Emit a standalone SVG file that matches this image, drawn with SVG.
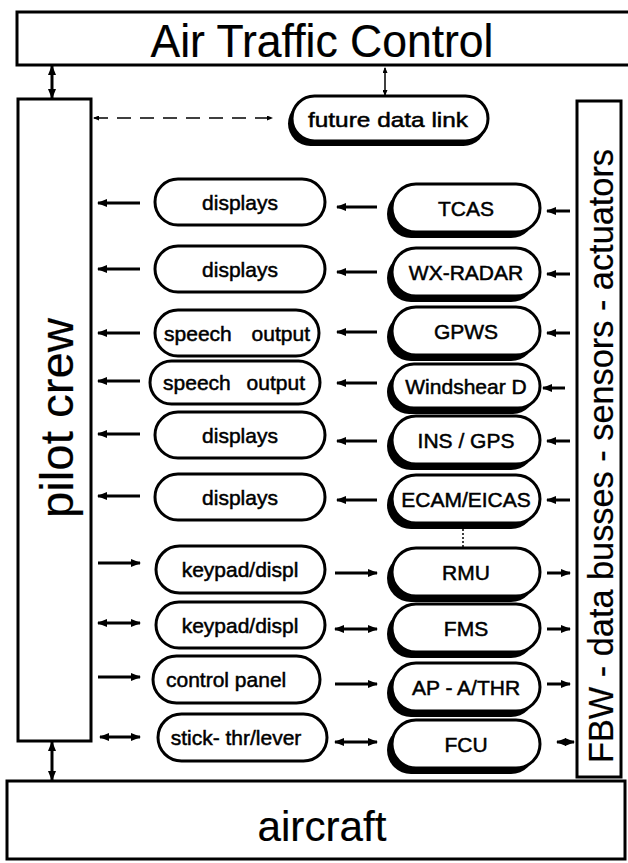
<svg xmlns="http://www.w3.org/2000/svg" width="628" height="863" viewBox="0 0 628 863">
<style>
text{font-family:"Liberation Sans",Arial,sans-serif;fill:#000;stroke:#000;stroke-width:0.5}
.big{stroke-width:0.2}
.box{fill:#fff;stroke:#000;stroke-width:3}
.nd{fill:#fff;stroke:#000;stroke-width:3}
.sh{fill:#000}
.lbl{font-size:21px;text-anchor:middle;dominant-baseline:central}
.ar{stroke:#000;stroke-width:3;fill:none}
.thin{stroke:#000;stroke-width:1.5;fill:none}
</style>
<defs>
<marker id="ah" viewBox="0 0 10 8" refX="9" refY="4" markerWidth="10" markerHeight="8" markerUnits="userSpaceOnUse" orient="auto-start-reverse"><path d="M0,0L10,4L0,8z"/></marker>
<marker id="sm" viewBox="0 0 6 5" refX="5" refY="2.5" markerWidth="6" markerHeight="5" markerUnits="userSpaceOnUse" orient="auto-start-reverse"><path d="M0,0L6,2.5L0,5z"/></marker>
</defs>
<rect width="628" height="863" fill="#fff"/>

<g id="atc"><rect class="box" x="17" y="12" width="620" height="53"/><text class="big" x="322" y="57" font-size="46" text-anchor="middle" textLength="343" lengthAdjust="spacingAndGlyphs">Air Traffic Control</text></g>
<g id="aircraft"><rect class="box" x="7" y="781" width="618" height="78"/><text class="big" x="322" y="841" font-size="43" text-anchor="middle" textLength="129" lengthAdjust="spacingAndGlyphs">aircraft</text></g>
<g id="pilot"><rect class="box" x="18" y="99" width="73" height="642"/><text class="big" transform="translate(73,418) rotate(-90)" font-size="46" text-anchor="middle" textLength="200" lengthAdjust="spacingAndGlyphs">pilot crew</text></g>
<g id="fbw"><rect class="box" x="577" y="101" width="44" height="676"/><text class="big" transform="translate(613,456) rotate(-90)" font-size="35" text-anchor="middle" textLength="614" lengthAdjust="spacingAndGlyphs">FBW - data busses - sensors - actuators</text></g>

<g id="fdl"><rect class="sh" x="288" y="101" width="198" height="45" rx="22.5"/><rect class="nd" x="292" y="96" width="196" height="45" rx="22.5"/><text class="lbl" x="388" y="119" font-size="22" textLength="160" lengthAdjust="spacingAndGlyphs">future data link</text></g>

<g id="l1"><rect class="nd" x="155" y="179" width="170" height="46" rx="23"/><text class="lbl" x="240" y="202">displays</text></g>
<g id="l2"><rect class="nd" x="155" y="246" width="170" height="46" rx="23"/><text class="lbl" x="240" y="269">displays</text></g>
<g id="l3"><rect class="nd" x="155" y="310" width="164" height="46" rx="23"/><text class="lbl" x="237" y="333" word-spacing="14">speech output</text></g>
<g id="l4"><rect class="nd" x="150" y="361" width="170" height="43" rx="21.5"/><text class="lbl" x="234" y="382" word-spacing="10">speech output</text></g>
<g id="l5"><rect class="nd" x="155" y="412" width="170" height="46" rx="23"/><text class="lbl" x="240" y="435">displays</text></g>
<g id="l6"><rect class="nd" x="155" y="474" width="170" height="46" rx="23"/><text class="lbl" x="240" y="497">displays</text></g>
<g id="l7"><rect class="nd" x="156" y="546" width="169" height="47" rx="23.5"/><text class="lbl" x="240" y="569">keypad/displ</text></g>
<g id="l8"><rect class="nd" x="156" y="602" width="169" height="46" rx="23"/><text class="lbl" x="240" y="625">keypad/displ</text></g>
<g id="l9"><rect class="nd" x="153" y="656" width="167" height="47" rx="23.5"/><text x="166" y="679" font-size="21" dominant-baseline="central">control panel</text></g>
<g id="l10"><rect class="nd" x="158" y="714" width="169" height="47" rx="23.5"/><text class="lbl" x="236" y="737">stick- thr/lever</text></g>

<g id="tcas"><rect class="sh" x="387" y="190" width="148" height="48" rx="24"/><rect class="nd" x="392" y="184" width="148" height="48" rx="24"/><text class="lbl" x="466" y="208">TCAS</text></g>
<g id="wx"><rect class="sh" x="387" y="254" width="148" height="48" rx="24"/><rect class="nd" x="392" y="248" width="148" height="48" rx="24"/><text class="lbl" x="466" y="272">WX-RADAR</text></g>
<g id="gpws"><rect class="sh" x="387" y="313" width="148" height="48" rx="24"/><rect class="nd" x="392" y="307" width="148" height="48" rx="24"/><text class="lbl" x="466" y="331">GPWS</text></g>
<g id="wsd"><rect class="sh" x="387" y="370" width="148" height="44" rx="22"/><rect class="nd" x="392" y="364" width="148" height="44" rx="22"/><text class="lbl" x="466" y="386">Windshear D</text></g>
<g id="ins"><rect class="sh" x="387" y="422" width="148" height="48" rx="24"/><rect class="nd" x="392" y="416" width="148" height="48" rx="24"/><text class="lbl" x="466" y="440">INS / GPS</text></g>
<g id="ecam"><rect class="sh" x="387" y="481" width="148" height="48" rx="24"/><rect class="nd" x="392" y="475" width="148" height="48" rx="24"/><text class="lbl" x="466" y="499">ECAM/EICAS</text></g>
<g id="rmu"><rect class="sh" x="387" y="554" width="148" height="48" rx="24"/><rect class="nd" x="392" y="548" width="148" height="48" rx="24"/><text class="lbl" x="466" y="572">RMU</text></g>
<g id="fms"><rect class="sh" x="387" y="610" width="148" height="48" rx="24"/><rect class="nd" x="392" y="604" width="148" height="48" rx="24"/><text class="lbl" x="466" y="628">FMS</text></g>
<g id="ap"><rect class="sh" x="387" y="669" width="148" height="48" rx="24"/><rect class="nd" x="392" y="663" width="148" height="48" rx="24"/><text class="lbl" x="466" y="687">AP - A/THR</text></g>
<g id="fcu"><rect class="sh" x="387" y="726" width="148" height="48" rx="24"/><rect class="nd" x="392" y="720" width="148" height="48" rx="24"/><text class="lbl" x="466" y="744">FCU</text></g>

<g id="connectors">
<line class="ar" x1="52" y1="66" x2="52" y2="98" marker-start="url(#ah)" marker-end="url(#ah)"/>
<line class="ar" x1="52" y1="742" x2="52" y2="780" marker-start="url(#ah)" marker-end="url(#ah)"/>
<line class="thin" x1="385" y1="68" x2="385" y2="95" marker-start="url(#sm)" marker-end="url(#sm)"/>
<line class="thin" x1="94" y1="118" x2="272" y2="118" stroke-dasharray="14 9" marker-start="url(#sm)" marker-end="url(#sm)"/>
<line class="thin" x1="463" y1="529" x2="463" y2="548" stroke-dasharray="2 2"/>

<line class="ar" x1="140" y1="203" x2="98" y2="203" marker-end="url(#ah)"/>
<line class="ar" x1="140" y1="269" x2="98" y2="269" marker-end="url(#ah)"/>
<line class="ar" x1="140" y1="333" x2="98" y2="333" marker-end="url(#ah)"/>
<line class="ar" x1="140" y1="381" x2="98" y2="381" marker-end="url(#ah)"/>
<line class="ar" x1="140" y1="434" x2="98" y2="434" marker-end="url(#ah)"/>
<line class="ar" x1="140" y1="496" x2="98" y2="496" marker-end="url(#ah)"/>
<line class="ar" x1="98" y1="563" x2="140" y2="563" marker-end="url(#ah)"/>
<line class="ar" x1="98" y1="623" x2="140" y2="623" marker-start="url(#ah)" marker-end="url(#ah)"/>
<line class="ar" x1="98" y1="677" x2="140" y2="677" marker-end="url(#ah)"/>
<line class="ar" x1="100" y1="737" x2="140" y2="737" marker-start="url(#ah)" marker-end="url(#ah)"/>

<line class="ar" x1="377" y1="207" x2="337" y2="207" marker-end="url(#ah)"/>
<line class="ar" x1="377" y1="272" x2="337" y2="272" marker-end="url(#ah)"/>
<line class="ar" x1="377" y1="332" x2="337" y2="332" marker-end="url(#ah)"/>
<line class="ar" x1="377" y1="383" x2="337" y2="383" marker-end="url(#ah)"/>
<line class="ar" x1="377" y1="441" x2="337" y2="441" marker-end="url(#ah)"/>
<line class="ar" x1="377" y1="500" x2="337" y2="500" marker-end="url(#ah)"/>
<line class="ar" x1="335" y1="573" x2="377" y2="573" marker-end="url(#ah)"/>
<line class="ar" x1="335" y1="629" x2="377" y2="629" marker-start="url(#ah)" marker-end="url(#ah)"/>
<line class="ar" x1="335" y1="684" x2="377" y2="684" marker-end="url(#ah)"/>
<line class="ar" x1="335" y1="742" x2="377" y2="742" marker-start="url(#ah)" marker-end="url(#ah)"/>

<line class="ar" x1="570" y1="211" x2="547" y2="211" marker-end="url(#ah)"/>
<line class="ar" x1="570" y1="274" x2="547" y2="274" marker-end="url(#ah)"/>
<line class="ar" x1="570" y1="333" x2="547" y2="333" marker-end="url(#ah)"/>
<line class="ar" x1="565" y1="388" x2="543" y2="388" marker-end="url(#ah)"/>
<line class="ar" x1="570" y1="441" x2="547" y2="441" marker-end="url(#ah)"/>
<line class="ar" x1="570" y1="500" x2="547" y2="500" marker-end="url(#ah)"/>
<line class="ar" x1="547" y1="573" x2="570" y2="573" marker-end="url(#ah)"/>
<line class="ar" x1="547" y1="629" x2="570" y2="629" marker-end="url(#ah)"/>
<line class="ar" x1="547" y1="684" x2="570" y2="684" marker-end="url(#ah)"/>
<line class="ar" x1="557" y1="742" x2="574" y2="742" marker-start="url(#ah)" marker-end="url(#ah)"/>
</g>
</svg>
